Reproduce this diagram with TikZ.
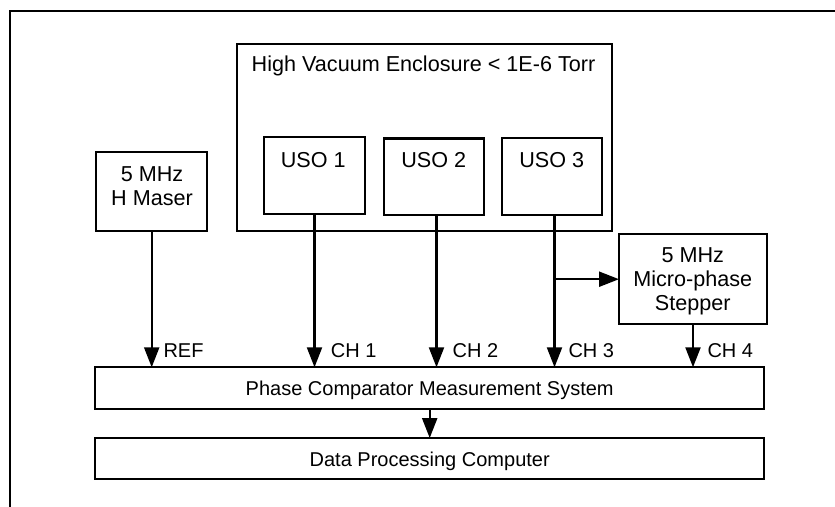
\documentclass[tikz,border=0pt]{standalone}
\usepackage{fontspec}
\setmainfont{Liberation Sans}
\usetikzlibrary{arrows.meta}
\begin{document}
\begin{tikzpicture}[x=1pt,y=-1pt,
  box/.style={draw, line width=2.2pt, rectangle, inner sep=0pt, outer sep=0pt},
  txt/.style={font=\fontsize{20}{24}\selectfont, inner sep=0pt},
  btxt/.style={font=\fontsize{21.6}{24}\selectfont, inner sep=0pt},
  arr/.style={line width=2.2pt, -{Triangle[length=20pt,width=15pt]}},
  wire/.style={line width=2.2pt}]
\useasboundingbox (0,0) rectangle (835,506);
% outer frame (cropped)
\coordinate (fTL) at (10,11);
\coordinate (fR) at (836,11);
\coordinate (fB) at (10,507);
\draw[wire] (fB) -- (fTL) -- (fR);

% boxes
\node[box, minimum width=111pt, minimum height=78.5pt] (maser) at (151.7,191.5) {};
\node[box, minimum width=375pt, minimum height=187pt] (vac) at (424.5,137.5) {};
\node[box, minimum width=100.5pt, minimum height=76.5pt] (uso1) at (314.5,175.5) {};
\node[box, minimum width=100.5pt, minimum height=76.5pt] (uso2) at (434,176.8) {};
\node[box, minimum width=100.5pt, minimum height=76.5pt] (uso3) at (552,176.5) {};
\node[box, minimum width=148pt, minimum height=90.3pt] (stepper) at (693,279.2) {};
\node[box, minimum width=669.3pt, minimum height=42pt] (phase) at (429.7,388.3) {};
\node[box, minimum width=669.3pt, minimum height=41.3pt] (data) at (429.7,458.7) {};

% texts
\node[btxt, anchor=base] (maserA) at (152,181) {5 MHz};
\node[btxt, anchor=base] (maserB) at (152,205) {H Maser};
\node[btxt, anchor=base] (vacT) at (423.5,71.7) {High Vacuum Enclosure < 1E-6 Torr};
\node[btxt, anchor=base] (uso1T) at (313.3,167.3) {USO 1};
\node[btxt, anchor=base] (uso2T) at (433.7,167.3) {USO 2};
\node[btxt, anchor=base] (uso3T) at (551.7,167.3) {USO 3};
\node[btxt, anchor=base] (stepA) at (692.8,262.3) {5 MHz};
\node[btxt, anchor=base] (stepB) at (692.8,286) {Micro-phase};
\node[btxt, anchor=base] (stepC) at (692.8,310) {Stepper};
\node[txt, anchor=base] (phaseT) at (429.7,395.6) {Phase Comparator Measurement System};
\node[txt, anchor=base] (dataT) at (429.7,466) {Data Processing Computer};

% connectors
\draw[arr] (maser.south) -- (maser.south |- phase.north);
\draw[arr] (uso1.south) -- (uso1.south |- phase.north);
\draw[arr] ([xshift=2.5pt]uso2.south) -- ([xshift=2.5pt]uso2.south |- phase.north);
\draw[arr] ([xshift=2.5pt]uso3.south) -- ([xshift=2.5pt]uso3.south |- phase.north);
\coordinate (br) at ([xshift=2.5pt]uso3.south |- stepper.west);
\draw[arr] (br) -- (stepper.west);
\draw[arr] (stepper.south) -- (stepper.south |- phase.north);
\draw[arr] (phase.south) -- (data.north);

% channel labels
\node[txt, anchor=base west] (lref) at (163.3,357.3) {REF};
\node[txt, anchor=base west] (lch1) at (330.7,357.3) {CH 1};
\node[txt, anchor=base west] (lch2) at (452.4,357.3) {CH 2};
\node[txt, anchor=base west] (lch3) at (568.3,357.3) {CH 3};
\node[txt, anchor=base west] (lch4) at (707.3,357.3) {CH 4};
\end{tikzpicture}
\end{document}
